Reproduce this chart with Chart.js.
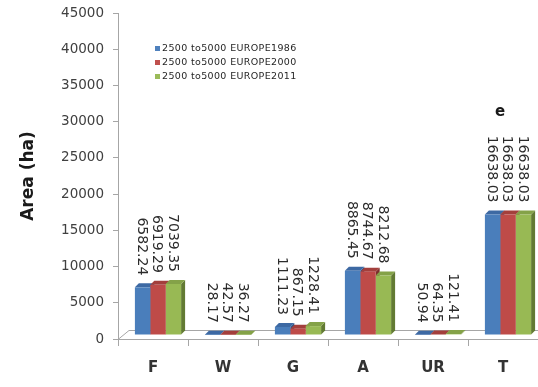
<!DOCTYPE html>
<html>
<head>
<meta charset="utf-8">
<script src="https://cdn.jsdelivr.net/npm/chart.js@4.4.1/dist/chart.umd.min.js"></script>
<style>
  html, body { margin: 0; padding: 0; background: #ffffff; }
  #wrap { width: 538px; height: 387px; }
</style>
</head>
<body>
<div id="wrap"><canvas id="chart" width="538" height="387"></canvas></div>
<script>
// Land-cover area per class, three survey years
const categories = ['F', 'W', 'G', 'A', 'UR', 'T'];
const seriesNames = ['2500 to5000 EUROPE1986', '2500 to5000 EUROPE2000', '2500 to5000 EUROPE2011'];
const europe1986 = [6582.24, 28.17, 1111.23, 8865.45, 50.94, 16638.03];
const europe2000 = [6919.29, 42.57, 867.15, 8744.67, 64.35, 16638.03];
const europe2011 = [7039.35, 36.27, 1228.41, 8212.68, 121.41, 16638.03];
const yTicks = [0, 5000, 10000, 15000, 20000, 25000, 30000, 35000, 40000, 45000];
const noteCategory = 'T';
const noteText = 'e';

// front / side / top shades for the column faces
const frontColors = ['#4a7ebb', '#be4b48', '#98b954'];
const sideColors  = ['#2e5182', '#7d2e2c', '#627a33'];
const topColors   = ['#3d69a3', '#a33f3c', '#84a248'];
const legendColors = ['#4f81bd', '#c0504d', '#9bbb59'];

const DEPTH = 4;        // column depth drawn as an oblique offset
const SHIFT_X = 5;      // columns sit mid-way into the floor
const SHIFT_Y = -4;
const FLOOR_X = 11, FLOOR_Y = -9;

const seriesValues = [europe1986, europe2000, europe2011];

const depthColumns = {
  id: 'depthColumns',
  beforeDatasetsDraw(chart) {
    const ctx = chart.ctx;
    const { left, right, bottom } = chart.chartArea;
    // floor edges
    ctx.save();
    ctx.strokeStyle = '#a6a6a6';
    ctx.lineWidth = 1;
    ctx.beginPath();
    ctx.moveTo(left, bottom + 0.5);
    ctx.lineTo(left + FLOOR_X, bottom + FLOOR_Y + 0.5);
    ctx.lineTo(right + 5, bottom + FLOOR_Y + 0.5);
    ctx.stroke();
    ctx.restore();

    ctx.save();
    ctx.translate(SHIFT_X, SHIFT_Y);
    const n = chart.data.labels.length;
    for (let i = 0; i < n; i++) {
      chart.data.datasets.forEach((ds, d) => {
        const el = chart.getDatasetMeta(d).data[i];
        const { x, y, base, width } = el.getProps(['x', 'y', 'base', 'width'], true);
        const l = x - width / 2, r = x + width / 2;
        ctx.fillStyle = sideColors[d];
        ctx.beginPath();
        ctx.moveTo(r, y); ctx.lineTo(r + DEPTH, y - DEPTH);
        ctx.lineTo(r + DEPTH, base - DEPTH); ctx.lineTo(r, base);
        ctx.closePath(); ctx.fill();
        ctx.fillStyle = topColors[d];
        ctx.beginPath();
        ctx.moveTo(l, y); ctx.lineTo(l + DEPTH, y - DEPTH);
        ctx.lineTo(r + DEPTH, y - DEPTH); ctx.lineTo(r, y);
        ctx.closePath(); ctx.fill();
      });
    }
    // translation stays active while the fronts are drawn
  },
  afterDatasetsDraw(chart) {
    const ctx = chart.ctx;
    // value labels, rotated, ending just above each column
    ctx.font = '14px "DejaVu Sans"';
    ctx.fillStyle = '#2b2b2b';
    ctx.textAlign = 'right';
    ctx.textBaseline = 'middle';
    let noteTop = Infinity;
    const noteIdx = chart.data.labels.indexOf(noteCategory);
    chart.data.datasets.forEach((ds, d) => {
      chart.getDatasetMeta(d).data.forEach((el, i) => {
        const { x, y } = el.getProps(['x', 'y'], true);
        const txt = ds.data[i].toFixed(2);
        const endY = y - 12;
        ctx.save();
        ctx.translate(x - 1, endY);
        ctx.rotate(Math.PI / 2);
        ctx.fillText(txt, 0, 0);
        ctx.restore();
        if (i === noteIdx) noteTop = Math.min(noteTop, endY - ctx.measureText(txt).width);
      });
    });
    ctx.restore();
    if (noteIdx >= 0) {
      const xs = chart.scales.x.getPixelForValue(noteIdx);
      ctx.save();
      ctx.font = 'bold 15px "DejaVu Sans"';
      ctx.fillStyle = '#1a1a1a';
      ctx.textAlign = 'center';
      ctx.textBaseline = 'middle';
      ctx.fillText(noteText, xs + SHIFT_X - 8, noteTop + SHIFT_Y - 24);
      ctx.restore();
    }
  }
};

// small legend in the upper plot area
const innerLegend = {
  id: 'innerLegend',
  afterDraw(chart) {
    const ctx = chart.ctx;
    ctx.save();
    ctx.font = '9.5px "DejaVu Sans"';
    if ('letterSpacing' in ctx) ctx.letterSpacing = '0.35px';
    ctx.textBaseline = 'middle';
    ctx.textAlign = 'left';
    chart.data.datasets.forEach((ds, d) => {
      const cy = 49 + d * 14;
      ctx.fillStyle = legendColors[d];
      ctx.fillRect(155, cy - 3, 5, 5);
      ctx.fillStyle = '#262626';
      ctx.fillText(ds.label, 162, cy);
    });
    ctx.restore();
  }
};

new Chart(document.getElementById('chart'), {
  type: 'bar',
  data: {
    labels: categories,
    datasets: seriesValues.map((vals, d) => ({
      label: seriesNames[d],
      data: vals,
      backgroundColor: frontColors[d],
      borderWidth: 0,
      barPercentage: 1.0,
      categoryPercentage: 0.66
    }))
  },
  options: {
    responsive: false,
    animation: false,
    devicePixelRatio: 1,
    layout: { padding: { top: 13, right: 0, bottom: 0, left: 0 } },
    plugins: {
      legend: { display: false },
      tooltip: { enabled: false }
    },
    scales: {
      x: {
        grid: {
          display: true,
          drawOnChartArea: false,
          drawTicks: true,
          tickLength: 7,
          offset: true,
          color: '#a6a6a6'
        },
        border: { display: true, color: '#a6a6a6', width: 1 },
        ticks: {
          color: '#333333',
          font: { family: 'DejaVu Sans', size: 15, weight: 'bold' },
          padding: 13
        },
        afterFit(scale) { scale.height = 48; }
      },
      y: {
        min: 0,
        max: 45000,
        afterBuildTicks(scale) { scale.ticks = yTicks.map(v => ({ value: v })); },
        grid: {
          display: true,
          drawOnChartArea: false,
          drawTicks: true,
          tickLength: 5,
          color: '#a6a6a6'
        },
        border: { display: true, color: '#a6a6a6', width: 1 },
        ticks: {
          color: '#404040',
          font: { family: 'DejaVu Sans', size: 13.5 },
          padding: 9,
          callback: (v) => String(v)
        },
        title: {
          display: true,
          text: 'Area (ha)',
          color: '#1a1a1a',
          font: { family: 'DejaVu Sans', size: 17, weight: 'bold' },
          padding: { top: 18, bottom: 0 }
        },
        afterFit(scale) {
          scale.width = 118;
          scale.paddingTop = 0;
          scale.paddingBottom = 0;
        }
      }
    }
  },
  plugins: [depthColumns, innerLegend]
});
</script>
</body>
</html>
